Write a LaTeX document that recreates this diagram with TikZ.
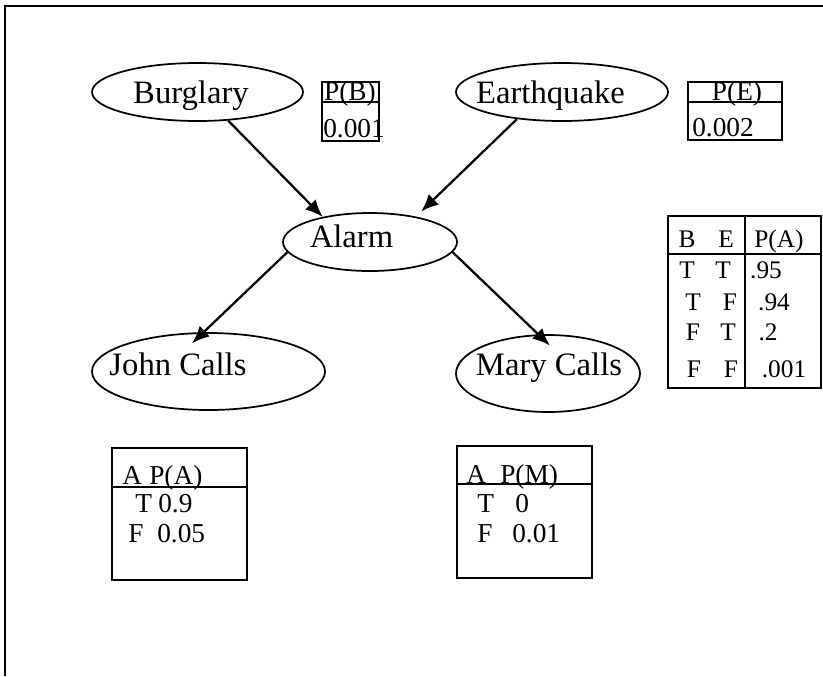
\documentclass[tikz,border=0pt]{standalone}
\usepackage{fontspec}
\setmainfont{Liberation Serif}
\usetikzlibrary{shapes.geometric,arrows.meta}

\begin{document}
\begin{tikzpicture}[x=0.75pt, y=-0.75pt,
var/.style={ellipse, draw, line width=1.3pt, inner sep=0pt},
lab/.style={inner sep=0pt, anchor=base, font=\fontsize{24.5}{29}\selectfont},
cpt/.style={rectangle, draw, line width=1.5pt, inner sep=0pt},
cell/.style={inner sep=0pt, anchor=base, font=\fontsize{19}{23}\selectfont},
pcell/.style={cell, font=\fontsize{20.5}{24}\selectfont},
dep/.style={-{Latex[length=13pt,width=11pt]}, line width=1.7pt}]

\useasboundingbox (0,0) rectangle (823,676);
\draw[line width=1.6pt] (5,676) -- (5,6) -- (823,6);

% the five variables
\node[var, minimum width=158.25pt, minimum height=43.5pt] at (197.5,92) (burglary) {};
\node[var, minimum width=159pt, minimum height=43.5pt] at (562,92) (earthquake) {};
\node[var, minimum width=130.5pt, minimum height=43.5pt] at (370,242) (alarm) {};
\node[var, minimum width=174.75pt, minimum height=57.75pt] at (208.5,371.5) (john) {};
\node[var, minimum width=138pt, minimum height=57.75pt] at (548,373.5) (mary) {};

\node[lab] at (191,103) (burglarylab) {Burglary};
\node[lab] at (550.5,103) (earthquakelab) {Earthquake};
\node[lab] at (351.5,247) (alarmlab) {Alarm};
\node[lab] at (178,375) (johnlab) {John Calls};
\node[lab] at (549,375) (marylab) {Mary Calls};

\draw[dep] (burglary.-43.5) -- (alarm.152);
\draw[dep, shorten >=5.5pt] (earthquake.-149) -- (alarm.29);
\draw[dep, shorten >=-12pt] (alarm.187) -- (john.97);
\draw[dep, shorten >=-12pt] (alarm.-7) -- (mary.104);

% priors
\node[cpt, minimum width=42.75pt, minimum height=44.25pt] at (350.5,111.5) (pb) {};
\draw[line width=1.5pt] ([yshift=7.1pt]pb.west) -- ([yshift=7.1pt]pb.east);
\node[pcell] at (350,100) (pbhead) {P(B)};
\node[pcell, anchor=base west] at (323,137) (pbval) {0.001};

\node[cpt, minimum width=70.5pt, minimum height=43.5pt] at (735,111) (pe) {};
\draw[line width=1.5pt] ([yshift=6.75pt]pe.west) -- ([yshift=6.75pt]pe.east);
\node[pcell] at (737,100) (pehead) {P(E)};
\node[pcell, anchor=base west] at (692,136) (peval) {0.002};

% alarm table
\node[cpt, minimum width=114.75pt, minimum height=129pt] at (744.5,302) (pa) {};
\draw[line width=1.5pt] ([yshift=36pt]pa.west) -- ([yshift=36pt]pa.east);
\draw[line width=1.5pt] ([xshift=0.4pt]pa.north) -- ([xshift=0.4pt]pa.south);
\node[cell] at (687,247) (pahb) {B};
\node[cell] at (726,247) (pahe) {E};
\node[cell] at (779,247) (pahp) {P(A)};
\node[cell] at (687,278) (pa1b) {T};
\node[cell] at (723,278) (pa1e) {T};
\node[cell] at (766,278) (pa1p) {.95};
\node[cell] at (693,310) (pa2b) {T};
\node[cell] at (730,310) (pa2e) {F};
\node[cell] at (774,310) (pa2p) {.94};
\node[cell] at (693,340) (pa3b) {F};
\node[cell] at (728,340) (pa3e) {T};
\node[cell] at (768,340) (pa3p) {.2};
\node[cell] at (694,377) (pa4b) {F};
\node[cell] at (731,377) (pa4e) {F};
\node[cell] at (784,377) (pa4p) {.001};

% john and mary tables
\node[cpt, minimum width=101.25pt, minimum height=99pt] at (179.5,514) (pj) {};
\draw[line width=1.5pt] ([yshift=20.25pt]pj.west) -- ([yshift=20.25pt]pj.east);
\node[pcell, anchor=base west] at (122,484) (pjha) {A};
\node[pcell, anchor=base west] at (149,484) (pjhp) {P(A)};
\node[pcell, anchor=base west] at (135,512) (pj1a) {T};
\node[pcell, anchor=base west] at (158,512) (pj1p) {0.9};
\node[pcell, anchor=base west] at (128,542) (pj2a) {F};
\node[pcell, anchor=base west] at (157,542) (pj2p) {0.05};

\node[cpt, minimum width=101.25pt, minimum height=99pt] at (524.5,512) (pm) {};
\draw[line width=1.5pt] ([yshift=21pt]pm.west) -- ([yshift=21pt]pm.east);
\node[pcell, anchor=base west] at (466,483) (pmha) {A};
\node[pcell, anchor=base west] at (500,483) (pmhp) {P(M)};
\node[pcell, anchor=base west] at (477,512) (pm1a) {T};
\node[pcell, anchor=base west] at (515,512) (pm1p) {0};
\node[pcell, anchor=base west] at (477,542) (pm2a) {F};
\node[pcell, anchor=base west] at (512,542) (pm2p) {0.01};
\end{tikzpicture}
\end{document}
